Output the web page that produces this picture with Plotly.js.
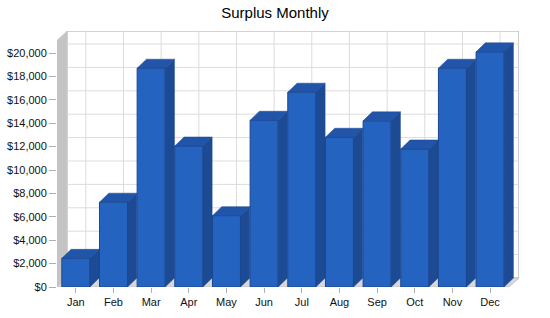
<!DOCTYPE html>
<html>
<head>
<meta charset="utf-8">
<script src="https://cdn.plot.ly/plotly-3.0.1.min.js"></script>
<style>html,body{margin:0;padding:0;background:#fff;}#chart{width:550px;height:318px;}</style>
</head>
<body>
<div id="chart"></div>
<script>
// ---- data ----
var months = ['Jan','Feb','Mar','Apr','May','Jun','Jul','Aug','Sep','Oct','Nov','Dec'];
var surplus = [2450, 7250, 18700, 12050, 6100, 14250, 16650, 12800, 14200, 11800, 18700, 20100];
var yTickVals = [0, 2000, 4000, 6000, 8000, 10000, 12000, 14000, 16000, 18000, 20000];
var yTickText = ['$0','$2,000','$4,000','$6,000','$8,000','$10,000','$12,000','$14,000','$16,000','$18,000','$20,000'];

// ---- geometry / style constants ----
var W = 550, H = 318;
var M = {l: 57, r: 31, t: 31, b: 31};
var pxPerCat = 37.66;
var pxPerVal = 0.0117;
var plotW = W - M.l - M.r, plotH = H - M.t - M.b;
var xMin = -0.5, xMax = xMin + plotW / pxPerCat;
var yMax = plotH / pxPerVal;
var wallDx = 10 / pxPerCat, wallDy = 9 / pxPerVal;
var barDx = 9.3 / pxPerCat, barDy = 9 / pxPerVal;
var barW = 0.744;
var nCat = months.length;
var xs = months.map(function(_, i){ return i; });

var cFront = '#2563c0', cSide = '#1c4a93', cTop = '#2155a9', cEdge = '#1a4690';

function poly(pts){
  return 'M' + pts.map(function(p){ return p[0] + ',' + p[1]; }).join('L') + 'Z';
}

var shapes = [];
// back wall
shapes.push({type:'path', xref:'x', yref:'y', layer:'below',
  path: poly([[xMin+wallDx, wallDy],[xMin+wallDx, yMax],[nCat-0.5+wallDx, yMax],[nCat-0.5+wallDx, wallDy]]),
  fillcolor:'#ffffff', line:{color:'#c4c4c4', width:1.5}});
// horizontal gridlines on back wall
yTickVals.forEach(function(v){
  if (v === 0) return;
  shapes.push({type:'line', xref:'x', yref:'y', layer:'below',
    x0: xMin+wallDx, x1: nCat-0.5+wallDx, y0: v+wallDy, y1: v+wallDy,
    line:{color:'#dcdcdc', width:1}});
});
// vertical gridlines on back wall
xs.forEach(function(i){
  shapes.push({type:'line', xref:'x', yref:'y', layer:'below',
    x0: i+wallDx, x1: i+wallDx, y0: wallDy, y1: yMax,
    line:{color:'#dcdcdc', width:1}});
});
// left side wall
shapes.push({type:'path', xref:'x', yref:'y', layer:'below',
  path: poly([[xMin, 0],[xMin, yMax-wallDy],[xMin+wallDx, yMax],[xMin+wallDx, wallDy]]),
  fillcolor:'#c4c4c4', line:{width:0}});
// floor
shapes.push({type:'path', xref:'x', yref:'y', layer:'below',
  path: poly([[xMin, 0],[nCat-0.5, 0],[nCat-0.5+wallDx, wallDy],[xMin+wallDx, wallDy]]),
  fillcolor:'#d8d8d8', line:{color:'#c4c4c4', width:1}});

var traces = [];
traces.push({type:'bar', x: xs, y: surplus, width: barW,
  marker:{color: cFront, line:{color: cEdge, width:1}}, hoverinfo:'skip'});
surplus.forEach(function(v, i){
  var L = i - barW/2, R = i + barW/2;
  traces.push({type:'scatter', mode:'lines', fill:'toself', fillcolor: cSide,
    x:[R, R+barDx, R+barDx, R, R], y:[0, barDy, v+barDy, v, 0],
    line:{color: cEdge, width:0.5}, hoverinfo:'skip'});
  traces.push({type:'scatter', mode:'lines', fill:'toself', fillcolor: cTop,
    x:[L, L+barDx, R+barDx, R, L], y:[v, v+barDy, v+barDy, v, v],
    line:{color: cEdge, width:0.5}, hoverinfo:'skip'});
});

var font = 'Arial, "Liberation Sans", sans-serif';
var layout = {
  width: W, height: H, margin: M,
  paper_bgcolor:'#ffffff', plot_bgcolor:'rgba(0,0,0,0)',
  showlegend:false,
  font:{family: font, size: 11, color:'#111'},
  title:{text:'Surplus Monthly', font:{family: font, size:15, color:'#000'},
    x:0.5, xanchor:'center', y:1 - 13/H, yref:'container', yanchor:'middle'},
  xaxis:{range:[xMin, xMax], tickvals: xs, ticktext: months, showgrid:false, zeroline:false,
    showline:false, ticks:'outside', ticklen:5, tickcolor:'#b0b0b0', fixedrange:true},
  yaxis:{range:[0, yMax], tickvals: yTickVals, ticktext: yTickText, showgrid:false, zeroline:false,
    showline:false, ticks:'outside', ticklen:7, tickcolor:'#b0b0b0', fixedrange:true},
  shapes: shapes,
  bargap: 0
};
Plotly.newPlot('chart', traces, layout, {displayModeBar:false, staticPlot:true});
</script>
</body>
</html>
